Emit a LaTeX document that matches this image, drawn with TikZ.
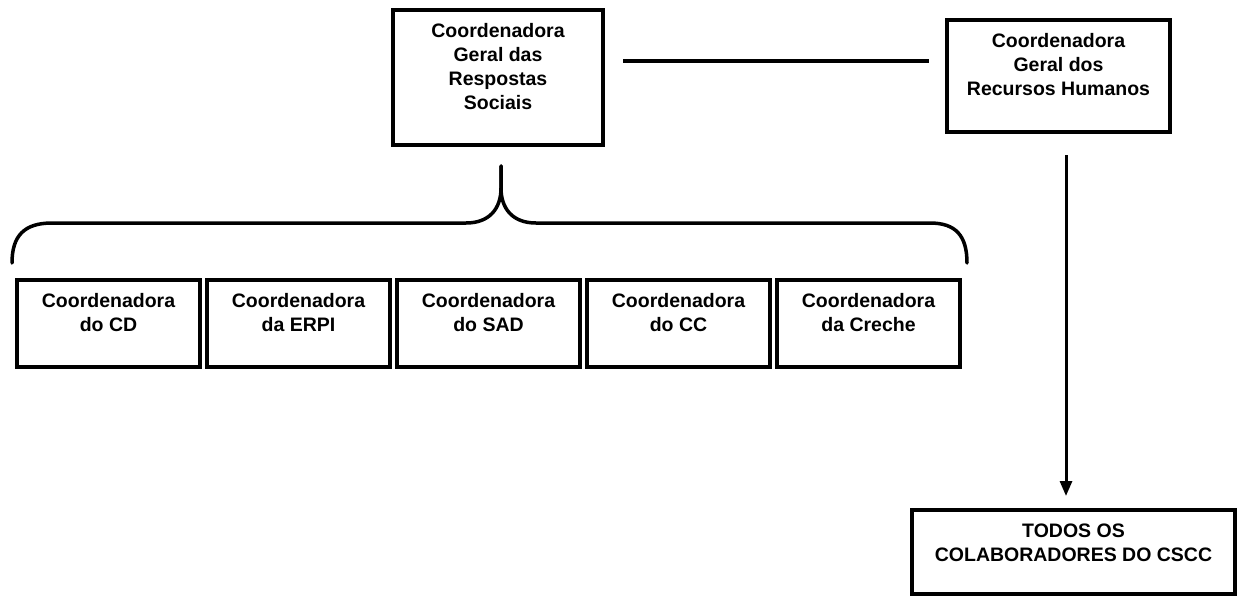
\documentclass[tikz,border=0pt]{standalone}
\usepackage{fontspec}
\setmainfont{Liberation Sans}
\usetikzlibrary{arrows.meta,calc}
\tikzset{
  boxnode/.style={draw, line width=4pt, rectangle, inner sep=0pt},
  txt/.style={anchor=north, inner sep=0pt, align=center,
    font=\fontsize{19.5}{24}\selectfont\bfseries},
  conn/.style={line width=3.5pt},
  arr/.style={line width=3pt, -{Triangle[length=15pt,width=12pt]}},
  bracepath/.style={line width=3.5pt, line cap=round}
}
\begin{document}
\begin{tikzpicture}[x=1pt,y=-1pt]
\useasboundingbox (0,0) rectangle (1245,595);
% top boxes
\node[boxnode, minimum width=210pt, minimum height=135pt] (b1) at (498,77.5) {};
\node[txt] (t1) at ([yshift=-15.5pt]b1.north) {Coordenadora\\Geral das\\Respostas\\Sociais};
\node[boxnode, minimum width=223pt, minimum height=112pt] (rh) at (1058.5,76) {};
\node[txt] (trh) at ([yshift=-15pt]rh.north) {Coordenadora\\Geral dos\\Recursos Humanos};
% row boxes
\node[boxnode, minimum width=183pt, minimum height=87pt] (cd) at (108.5,323.5) {};
\node[txt] (tcd) at ([yshift=-15.5pt]cd.north) {Coordenadora\\do CD};
\node[boxnode, minimum width=183pt, minimum height=87pt] (erpi) at (298.5,323.5) {};
\node[txt] (terpi) at ([yshift=-15.5pt]erpi.north) {Coordenadora\\da ERPI};
\node[boxnode, minimum width=183pt, minimum height=87pt] (sad) at (488.5,323.5) {};
\node[txt] (tsad) at ([yshift=-15.5pt]sad.north) {Coordenadora\\do SAD};
\node[boxnode, minimum width=183pt, minimum height=87pt] (cc) at (678.5,323.5) {};
\node[txt] (tcc) at ([yshift=-15.5pt]cc.north) {Coordenadora\\do CC};
\node[boxnode, minimum width=183pt, minimum height=87pt] (cr) at (868.5,323.5) {};
\node[txt] (tcr) at ([yshift=-15.5pt]cr.north) {Coordenadora\\da Creche};
% bottom box
\node[boxnode, minimum width=323pt, minimum height=84pt] (all) at (1073.5,552) {};
\node[txt] (tall) at ([yshift=-15.5pt]all.north) {TODOS OS\\COLABORADORES DO CSCC};
% connector between top boxes
\draw[conn, shorten <=18pt, shorten >=16pt] ([yshift=16.5pt]b1.east) -- ([yshift=16.5pt]b1.east -| rh.west);
% arrow
\draw[arr, shorten <=21pt, shorten >=12pt] ([xshift=7.5pt]rh.south) -- ([xshift=7.5pt]rh.south |- all.north);
% brace
\coordinate (tip) at (501,166);
\draw[bracepath] (12,263) .. controls (12,236) and (24,223) .. (52,223)
  -- (466,223) .. controls (490,223) and (501,208) .. (501,188)
  -- (tip);
\draw[bracepath] (tip) -- (501,188) .. controls (501,208) and (512,223) .. (536,223)
  -- (930,223) .. controls (956,223) and (967,236) .. (967,263);
\end{tikzpicture}
\end{document}
